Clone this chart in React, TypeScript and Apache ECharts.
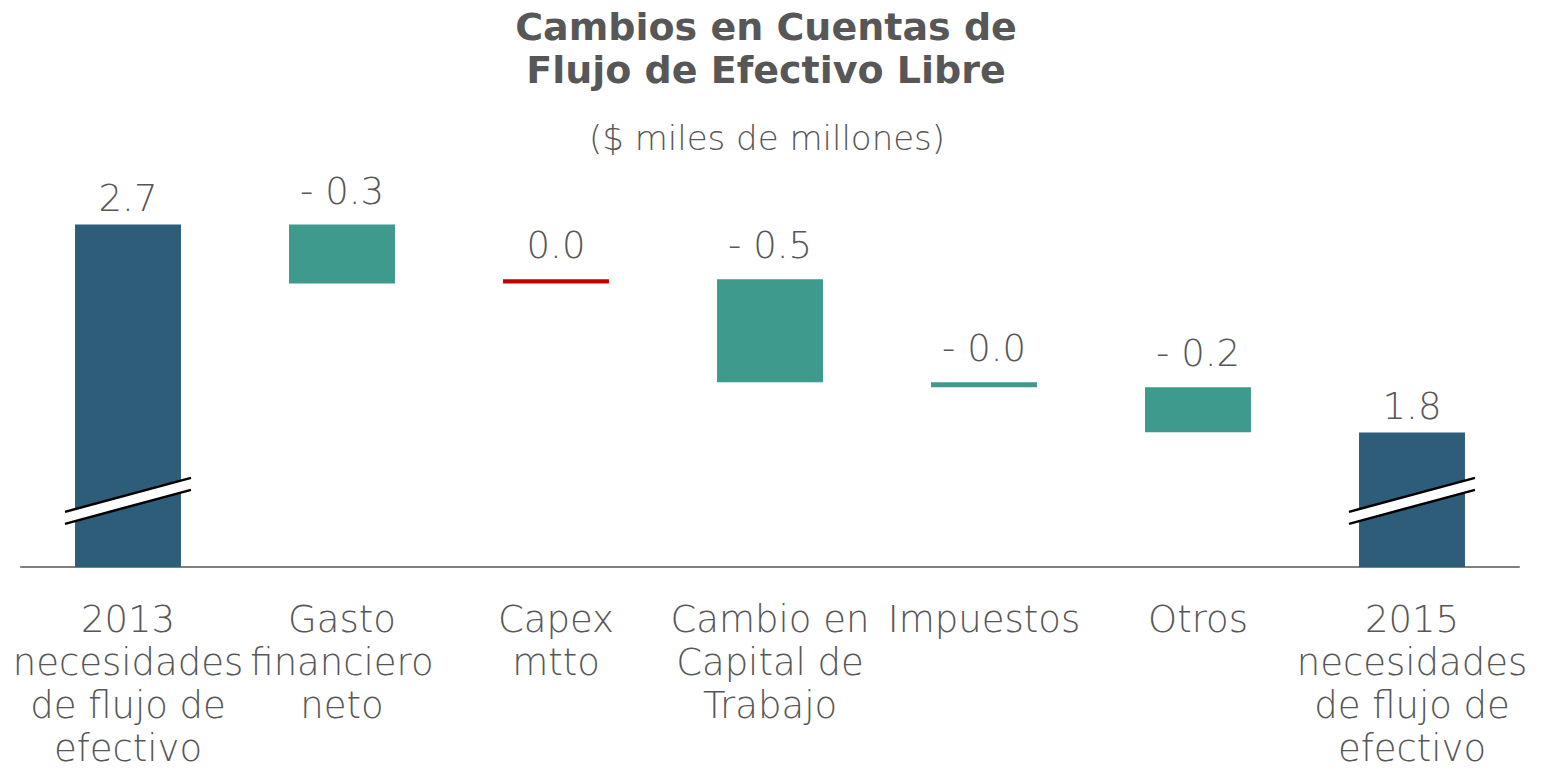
import React, { useEffect, useRef } from "react";
import * as echarts from "echarts";

const categories = [
  "2013\nnecesidades\nde flujo de\nefectivo",
  "Gasto\nfinanciero\nneto",
  "Capex\nmtto",
  "Cambio en\nCapital de\nTrabajo",
  "Impuestos",
  "Otros",
  "2015\nnecesidades\nde flujo de\nefectivo",
];
const startValue = 2.74;
const deltas = [-0.28, 0.02, -0.49, -0.024, -0.214];
const endValue = 1.75;
const valueLabels = ["2.7", "- 0.3", "0.0", "- 0.5", "- 0.0", "- 0.2", "1.8"];
const axisMin = 1.11;
const axisMax = 3.0;
const breakValue = 1.425;
const breakIndices = [0, 6];

const DARK = "#2E5D7A";
const TEAL = "#3D9A8C";
const RED = "#C00000";
const TEXT = "#575757";
const FONT = "'DejaVu Sans', sans-serif";

export default function App() {
  const ref = useRef<HTMLDivElement>(null);
  useEffect(() => {
    if (!ref.current) return;
    const chart = echarts.init(ref.current, null, { renderer: "svg" });

    const base: number[] = [];
    const heights: any[] = [];
    base.push(axisMin);
    heights.push({ value: startValue - axisMin, itemStyle: { color: DARK }, label: { distance: 8 } });
    let running = startValue;
    deltas.forEach((d) => {
      const next = running + d;
      base.push(Math.min(running, next));
      heights.push({
        value: Math.abs(d),
        itemStyle: { color: d >= 0 ? RED : TEAL },
        label: { distance: 15 },
      });
      running = next;
    });
    base.push(axisMin);
    heights.push({ value: endValue - axisMin, itemStyle: { color: DARK }, label: { distance: 8 } });

    chart.setOption({
      animation: false,
      title: [
        {
          text: "Cambios en Cuentas de\nFlujo de Efectivo Libre",
          left: 761,
          textAlign: "center",
          top: 0,
          textStyle: { fontFamily: FONT, fontSize: 38, fontWeight: "bold", color: TEXT, lineHeight: 43 },
        },
        {
          text: "($ miles de millones)",
          left: 762,
          textAlign: "center",
          top: 116,
          textStyle: { fontFamily: FONT, fontSize: 34, fontWeight: 300, color: TEXT },
        },
      ],
      grid: { left: 21, right: 40, top: 170, bottom: 203, outerBoundsMode: "none", containLabel: false },
      xAxis: {
        type: "category",
        data: categories,
        axisTick: { show: false },
        axisLine: { lineStyle: { color: "#7F7F7F", width: 2 } },
        axisLabel: {
          interval: 0,
          fontFamily: FONT,
          fontSize: 37,
          fontWeight: 300,
          lineHeight: 43,
          color: TEXT,
          margin: 31,
        },
      },
      yAxis: { type: "value", min: axisMin, max: axisMax, show: false, splitLine: { show: false } },
      series: [
        {
          type: "bar",
          stack: "w",
          data: base,
          itemStyle: { color: "transparent" },
          barWidth: "49.5%",
          silent: true,
        },
        {
          type: "bar",
          stack: "w",
          data: heights,
          barWidth: "49.5%",
          label: {
            show: true,
            position: "top",
            fontFamily: FONT,
            fontSize: 37,
            fontWeight: 300,
            color: TEXT,
            formatter: (p: any) => valueLabels[p.dataIndex],
          },
        },
      ],
    });

    const graphics: any[] = [];
    breakIndices.forEach((i) => {
      const c = chart.convertToPixel({ gridIndex: 0 }, [i, breakValue]) as number[];
      const cx = c[0];
      const cy = c[1];
      const hw = 63;
      const rise = 17;
      const gap = 6;
      graphics.push({
        type: "polygon",
        z: 100,
        shape: {
          points: [
            [cx - hw, cy + rise - gap],
            [cx + hw, cy - rise - gap],
            [cx + hw, cy - rise + gap],
            [cx - hw, cy + rise + gap],
          ],
        },
        style: { fill: "#ffffff" },
      });
      graphics.push({
        type: "line",
        z: 101,
        shape: { x1: cx - hw, y1: cy + rise - gap, x2: cx + hw, y2: cy - rise - gap },
        style: { stroke: "#000000", lineWidth: 2.5 },
      });
      graphics.push({
        type: "line",
        z: 101,
        shape: { x1: cx - hw, y1: cy + rise + gap, x2: cx + hw, y2: cy - rise + gap },
        style: { stroke: "#000000", lineWidth: 2.5 },
      });
    });
    chart.setOption({ graphic: graphics });

    return () => chart.dispose();
  }, []);
  return (
    <div
      ref={ref}
      style={{ position: "absolute", left: 0, top: 0, width: 1559, height: 770, background: "#fff" }}
    />
  );
}
